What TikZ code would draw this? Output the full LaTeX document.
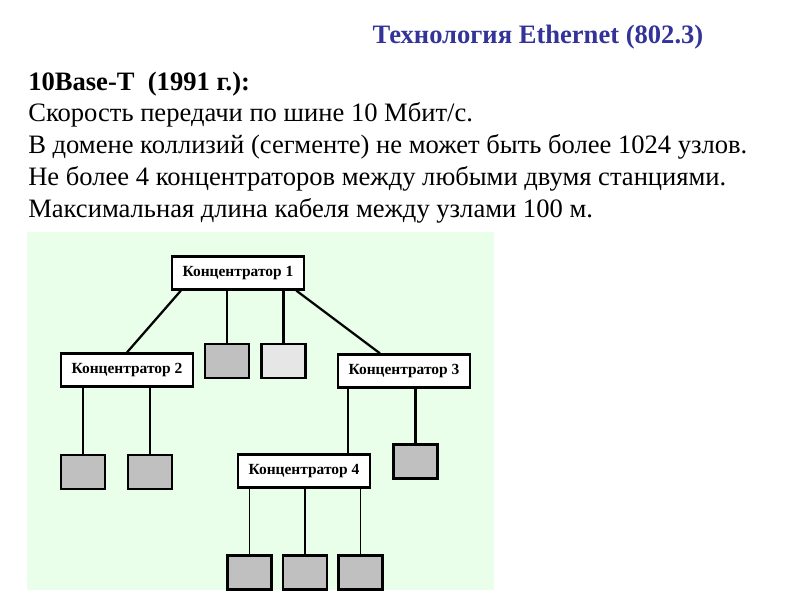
\documentclass[tikz,border=0pt]{standalone}
\usepackage{fontspec}
\setmainfont{Liberation Serif}
\usetikzlibrary{positioning}
\definecolor{titleblue}{RGB}{51,51,153}
\definecolor{panel}{RGB}{234,255,234}
\definecolor{pcdark}{RGB}{192,192,192}
\definecolor{pclight}{RGB}{230,230,230}

\begin{document}
\begin{tikzpicture}[
  x=0.025cm, y=-0.025cm,
  hub/.style={draw, line width=1.6pt, fill=white, minimum width=3.3cm, minimum height=0.825cm, inner sep=0pt, font=\fontsize{11}{13}\selectfont\bfseries},
  pc/.style={draw, line width=1.6pt, fill=pcdark, minimum width=1.1cm, minimum height=0.85cm, inner sep=0pt},
  body/.style={anchor=base west, inner sep=0pt, font=\fontsize{18.9}{22}\selectfont},
  wire/.style={line width=0.8pt},
  wirebold/.style={line width=1.6pt},
]
\useasboundingbox (0,0) rectangle (800,600);
\fill[panel] (27,232) rectangle (494,590);
% heading and text
\node[anchor=base, inner sep=0pt, text=titleblue, font=\fontsize{18.9}{22}\selectfont\bfseries] (title) at (538,43) {Технология Ethernet (802.3)};
\node[body, font=\fontsize{18.9}{22}\selectfont\bfseries] (line1) at (28,90) {10Base-T\ \ (1991 г.):};
\node[body] (line2) at (28,121) {Скорость передачи по шине 10 Мбит/с.};
\node[body] (line3) at (28,153) {В домене коллизий (сегменте) не может быть более 1024 узлов.};
\node[body] (line4) at (28,185) {Не более 4 концентраторов между любыми двумя станциями.};
\node[body] (line5) at (28,217) {Максимальная длина кабеля между узлами 100 м.};
% hubs
\node[hub] (hub1) at (238,273) {Концентратор 1};
\node[hub] (hub2) at (127,370) {Концентратор 2};
\node[hub] (hub3) at (404,371) {Концентратор 3};
\node[hub] (hub4) at (304,471) {Концентратор 4};
% stations
\node[pc] (pc1) at (227,361) {};
\node[pc, fill=pclight] (pc2) at (283.5,361) {};
\node[pc] (pc3) at (83,472) {};
\node[pc] (pc4) at (150,472) {};
\node[pc] (pc5) at (415.5,461.5) {};
\node[pc] (pc6) at (249.5,572.5) {};
\node[pc] (pc7) at (305,572.5) {};
\node[pc] (pc8) at (360.5,572.5) {};
% cables
\draw[wirebold] ([xshift=0.25cm]hub1.south west) -- (hub2.north);
\draw[wirebold] ([xshift=-0.22cm]hub1.south east) -- ([xshift=-0.6cm]hub3.north);
\draw[wire] (pc1.north) -- (pc1.north |- hub1.south);
\draw[wirebold] (pc2.north) -- (pc2.north |- hub1.south);
\draw[wirebold] (pc3.north) -- (pc3.north |- hub2.south);
\draw[wirebold] (pc4.north) -- (pc4.north |- hub2.south);
\draw[wire] ([xshift=1.1cm]hub4.north) -- ([xshift=1.1cm]hub4.north |- hub3.south);
\draw[wirebold] (pc5.north) -- (pc5.north |- hub3.south);
\draw[wire] (pc6.north) -- (pc6.north |- hub4.south);
\draw[wirebold] (pc7.north) -- (pc7.north |- hub4.south);
\draw[wire] (pc8.north) -- (pc8.north |- hub4.south);
\end{tikzpicture}
\end{document}
